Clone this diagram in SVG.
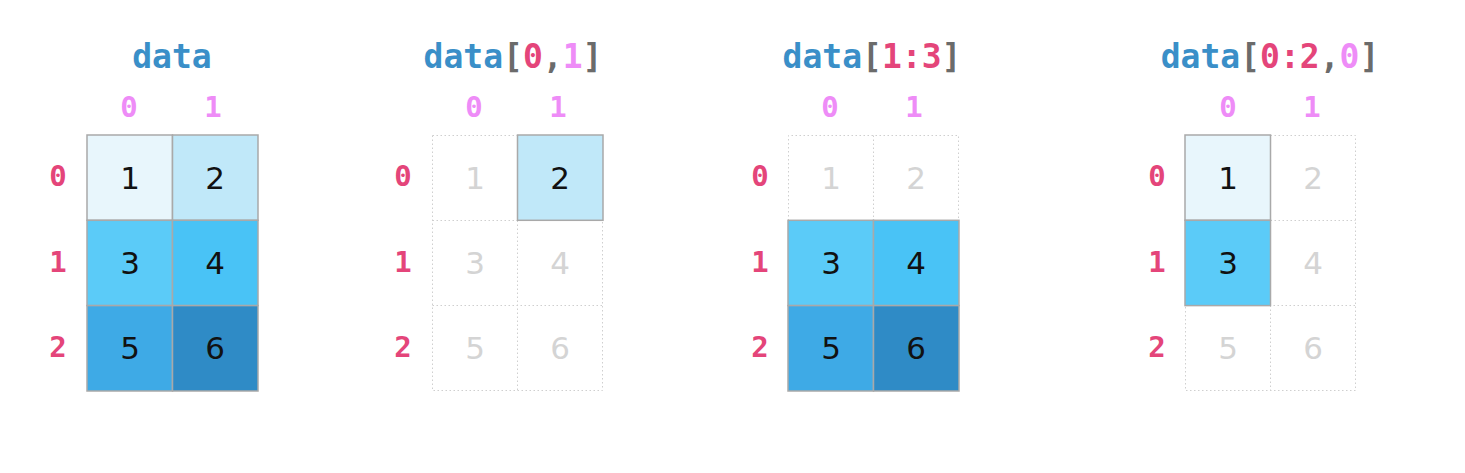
<svg xmlns="http://www.w3.org/2000/svg" width="1465" height="473" viewBox="0 0 1465 473">
<style>
.title{font-family:"DejaVu Sans Mono",monospace;font-weight:bold;font-size:33px;text-anchor:middle}
.b{fill:#3a8fc8}.br{fill:#6b6b6b}.r{fill:#e4457a}.c{fill:#ee8cf7}
.idx{font-family:"DejaVu Sans Mono",monospace;font-weight:bold;font-size:29px;text-anchor:middle}
.num{font-family:"DejaVu Sans",sans-serif;font-size:31px;text-anchor:middle}
.on{fill:#111}.off{fill:#d4d4d4}
.sel{stroke:#a9a9a9;stroke-width:1.5}
.dot{fill:none;stroke:#cfcfcf;stroke-width:1;stroke-dasharray:1.5,2.5}
</style>
<rect width="1465" height="473" fill="#fff"/>

<g id="panel-data">
<text class="title b" x="172" y="68">data</text>
<text class="idx c" x="129" y="117">0</text><text class="idx c" x="213" y="117">1</text>
<text class="idx r" x="58" y="186">0</text><text class="idx r" x="58" y="272">1</text><text class="idx r" x="58" y="357">2</text>
<rect class="sel" x="87" y="135" width="85.5" height="85.3" fill="#e8f6fc"/>
<rect class="sel" x="172.5" y="135" width="85.5" height="85.3" fill="#c0e8f9"/>
<rect class="sel" x="87" y="220.3" width="85.5" height="85.3" fill="#5bcbf8"/>
<rect class="sel" x="172.5" y="220.3" width="85.5" height="85.3" fill="#49c3f6"/>
<rect class="sel" x="87" y="305.6" width="85.5" height="85.4" fill="#3eaae6"/>
<rect class="sel" x="172.5" y="305.6" width="85.5" height="85.4" fill="#2f8bc6"/>
<text class="num on" x="130" y="189">1</text><text class="num on" x="215" y="189">2</text>
<text class="num on" x="130" y="274">3</text><text class="num on" x="215" y="274">4</text>
<text class="num on" x="130" y="359">5</text><text class="num on" x="215" y="359">6</text>
</g>

<g id="panel-01">
<text class="title" x="513" y="68"><tspan class="b">data</tspan><tspan class="br">[</tspan><tspan class="r">0</tspan><tspan class="br">,</tspan><tspan class="c">1</tspan><tspan class="br">]</tspan></text>
<text class="idx c" x="474" y="117">0</text><text class="idx c" x="558" y="117">1</text>
<text class="idx r" x="403" y="186">0</text><text class="idx r" x="403" y="272">1</text><text class="idx r" x="403" y="357">2</text>
<path class="dot" d="M432.5 135.5V390.5H602.5V220.5M517.5 220.5V390.5M432.5 135.5H517.5M432.5 220.5H602.5M432.5 305.5H602.5"/>
<rect class="sel" x="517.5" y="135" width="85.5" height="85.3" fill="#c0e8f9"/>
<text class="num off" x="475" y="189">1</text><text class="num on" x="560" y="189">2</text>
<text class="num off" x="475" y="274">3</text><text class="num off" x="560" y="274">4</text>
<text class="num off" x="475" y="359">5</text><text class="num off" x="560" y="359">6</text>
</g>

<g id="panel-13">
<text class="title" x="872" y="68"><tspan class="b">data</tspan><tspan class="br">[</tspan><tspan class="r">1:3</tspan><tspan class="br">]</tspan></text>
<text class="idx c" x="830" y="117">0</text><text class="idx c" x="914" y="117">1</text>
<text class="idx r" x="760" y="186">0</text><text class="idx r" x="760" y="272">1</text><text class="idx r" x="760" y="357">2</text>
<path class="dot" d="M788.5 220.5V135.5H958.5V220.5M873.5 135.5V220.5"/>
<rect class="sel" x="788" y="220.3" width="85.5" height="85.3" fill="#5bcbf8"/>
<rect class="sel" x="873.5" y="220.3" width="85.5" height="85.3" fill="#49c3f6"/>
<rect class="sel" x="788" y="305.6" width="85.5" height="85.4" fill="#3eaae6"/>
<rect class="sel" x="873.5" y="305.6" width="85.5" height="85.4" fill="#2f8bc6"/>
<text class="num off" x="831" y="189">1</text><text class="num off" x="916" y="189">2</text>
<text class="num on" x="831" y="274">3</text><text class="num on" x="916" y="274">4</text>
<text class="num on" x="831" y="359">5</text><text class="num on" x="916" y="359">6</text>
</g>

<g id="panel-020">
<text class="title" x="1270" y="68"><tspan class="b">data</tspan><tspan class="br">[</tspan><tspan class="r">0:2</tspan><tspan class="br">,</tspan><tspan class="c">0</tspan><tspan class="br">]</tspan></text>
<text class="idx c" x="1228" y="117">0</text><text class="idx c" x="1312" y="117">1</text>
<text class="idx r" x="1157" y="186">0</text><text class="idx r" x="1157" y="272">1</text><text class="idx r" x="1157" y="357">2</text>
<path class="dot" d="M1270.5 135.5H1355.5V390.5H1185.5V305.5M1270.5 220.5H1355.5M1185.5 305.5H1355.5M1270.5 305.5V390.5"/>
<rect class="sel" x="1185" y="135" width="85.5" height="85.3" fill="#e8f6fc"/>
<rect class="sel" x="1185" y="220.3" width="85.5" height="85.3" fill="#5bcbf8"/>
<text class="num on" x="1228" y="189">1</text><text class="num off" x="1313" y="189">2</text>
<text class="num on" x="1228" y="274">3</text><text class="num off" x="1313" y="274">4</text>
<text class="num off" x="1228" y="359">5</text><text class="num off" x="1313" y="359">6</text>
</g>
</svg>
